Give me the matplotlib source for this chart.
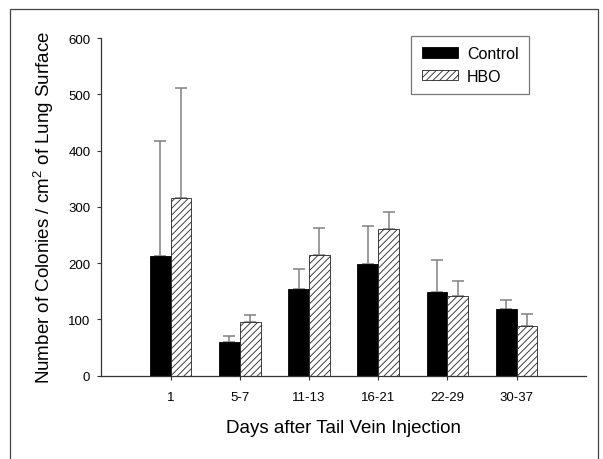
import numpy as np
import matplotlib
matplotlib.use("Agg")
import matplotlib.pyplot as plt
from matplotlib.patches import Rectangle

plt.rcParams['font.family'] = ['Liberation Sans', 'DejaVu Sans']
plt.rcParams['mathtext.fontset'] = 'custom'
plt.rcParams['mathtext.rm'] = 'Liberation Sans'
plt.rcParams['hatch.linewidth'] = 0.6

days = ['1', '5-7', '11-13', '16-21', '22-29', '30-37']
control = [212, 60, 154, 199, 148, 118]
control_err = [205, 11, 35, 66, 58, 16]
hbo = [315, 95, 214, 261, 142, 88]
hbo_err = [197, 12, 48, 30, 26, 22]

x = np.arange(1, len(days) + 1)
w = 0.3

fig = plt.figure(figsize=(6.03, 4.6), dpi=100)
ax = fig.add_axes([0.1683, 0.1815, 0.803, 0.7337])

ax.bar(x - w / 2, control, w, color='black', edgecolor='black', linewidth=0.6, label='Control', zorder=2)
ax.bar(x + w / 2, hbo, w, color='white', edgecolor='#222222', hatch='/////', linewidth=0.6, label='HBO', zorder=2)

# one-sided error bars (upper only)
ax.errorbar(x - w / 2, control, yerr=[np.zeros(len(x)), control_err], fmt='none',
            ecolor='#808080', elinewidth=1.1, capsize=4, capthick=1.1, zorder=1)
ax.errorbar(x + w / 2, hbo, yerr=[np.zeros(len(x)), hbo_err], fmt='none',
            ecolor='#808080', elinewidth=1.1, capsize=4, capthick=1.1, zorder=1)

ax.set_xlim(0, 7)
ax.set_ylim(0, 600)
ax.set_xticks(x)
ax.set_xticklabels(days)
ax.set_yticks(np.arange(0, 601, 100))
ax.tick_params(axis='both', labelsize=9.5, length=3, width=0.8, color='#333333', pad=5)
ax.tick_params(axis='x', pad=8)

for s in ['top', 'right']:
    ax.spines[s].set_visible(False)
for s in ['left', 'bottom']:
    ax.spines[s].set_color('#333333')
    ax.spines[s].set_linewidth(0.9)

ax.set_xlabel('Days after Tail Vein Injection', fontsize=13.5, labelpad=12)
ax.set_ylabel('Number of Colonies / cm$^2$ of Lung Surface', fontsize=13.5, labelpad=9)

leg = ax.legend(loc='upper right', bbox_to_anchor=(0.883, 1.006), fontsize=11.5,
                fancybox=False, edgecolor='#555555', borderaxespad=0,
                handlelength=2.3, handleheight=0.65, borderpad=0.65,
                labelspacing=0.45, handletextpad=0.55)
leg.get_frame().set_linewidth(0.9)

# outer frame around the figure
fig.patches.append(Rectangle((10 / 603, -0.05), 588 / 603, 1.05 - 10 / 460,
                             transform=fig.transFigure, fill=False,
                             edgecolor='#444444', linewidth=0.9))

fig.savefig('out.png', dpi=100)
